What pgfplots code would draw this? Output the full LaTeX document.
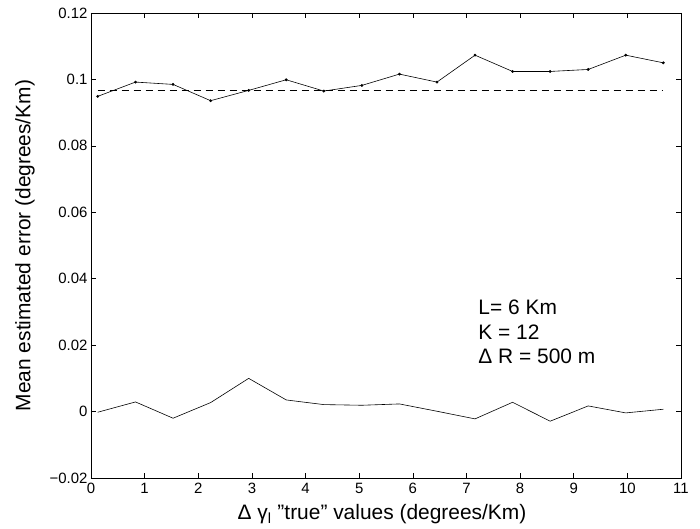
\documentclass[border=0pt]{standalone}
\usepackage{fontspec}
\setmainfont{Liberation Sans}
\usepackage{pgfplots}
\pgfplotsset{compat=1.18}
\begin{document}
\begin{tikzpicture}
\begin{axis}[
  name=ax,
  scale only axis,
  width=590bp, height=465bp,
  xmin=0, xmax=11, ymin=-0.02, ymax=0.12,
  xtick={0,1,...,11},
  ytick={-0.02,0,0.02,0.04,0.06,0.08,0.1,0.12},
  yticklabels={−0.02,0,0.02,0.04,0.06,0.08,0.1,0.12},
  /pgf/number format/assume math mode=true,
  tick align=inside,
  ticklabel style={font=\fontsize{15}{17}\selectfont},
  xticklabel style={yshift=-2bp},
  major tick length=5bp,
  axis line style={line width=0.6pt},
  tick style={line width=0.6pt, black},
  xlabel={Δ γ\textsubscript{l} \symbol{34}true\symbol{34} values (degrees/Km)},
  ylabel={Mean estimated error (degrees/Km)},
  label style={font=\fontsize{21}{24}\selectfont},
  xlabel style={at={(axis description cs:0.5,0)}, anchor=base, yshift=-41.7bp, xshift=-4bp},
  ylabel style={at={(axis description cs:0,0.5)}, anchor=center, yshift=66bp},
]
\addplot[black, line width=0.6pt, mark=*, mark size=1.1pt] coordinates {
(0.125,0.0949) (0.83,0.0992) (1.53,0.0985) (2.23,0.0936) (2.94,0.0967) (3.64,0.0999)
(4.34,0.0965) (5.05,0.0982) (5.75,0.1016) (6.45,0.0992) (7.16,0.1073) (7.86,0.1024)
(8.56,0.1024) (9.27,0.1030) (9.97,0.1073) (10.67,0.1050)};
\addplot[black, line width=0.6pt, dashed, dash pattern=on 7bp off 5bp] coordinates {
(0.125,0.0966) (10.67,0.0966)};
\addplot[black, line width=0.6pt] coordinates {
(0.125,-0.0002) (0.83,0.0029) (1.53,-0.0020) (2.23,0.0027) (2.94,0.0100) (3.64,0.0035)
(4.34,0.0021) (5.05,0.0019) (5.75,0.0023) (6.45,0.0001) (7.16,-0.0022) (7.86,0.0028)
(8.56,-0.0029) (9.27,0.0017) (9.97,-0.0004) (10.67,0.0007)};
\node[anchor=base west, font=\fontsize{21}{24}\selectfont, inner sep=0pt] at (axis cs:7.22,0.0293) {L= 6 Km};
\node[anchor=base west, font=\fontsize{21}{24}\selectfont, inner sep=0pt] at (axis cs:7.22,0.0218) {K = 12};
\node[anchor=base west, font=\fontsize{21}{24}\selectfont, inner sep=0pt] at (axis cs:7.22,0.0145) {Δ R = 500 m};
\end{axis}
\pgfresetboundingbox
\path ([shift={(-91bp,-51bp)}]ax.south west) rectangle ([shift={(19bp,13bp)}]ax.north east);
\end{tikzpicture}
\end{document}
